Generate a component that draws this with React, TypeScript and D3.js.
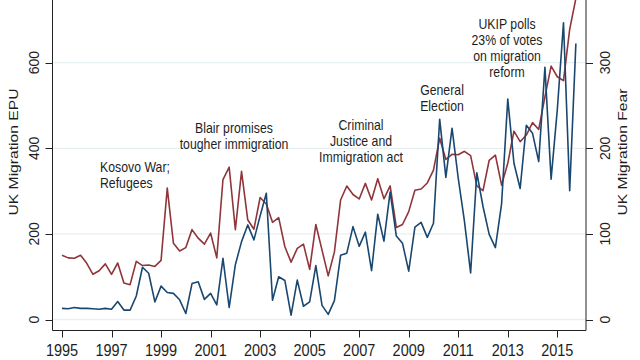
import { useEffect, useRef } from 'react'
import * as d3 from 'd3'

// quarterly values, 1995Q1 .. 2015Q4
const epu = [
  26, 25, 28, 26,
  26, 25, 24, 26,
  24, 42, 22, 22,
  55, 122, 108, 41,
  78, 63, 61, 46,
  14, 84, 88, 47,
  61, 34, 143, 28,
  128, 182, 221, 186,
  242, 295, 45, 100,
  91, 10, 92, 31,
  41, 126, 33, 12,
  44, 150, 155, 217,
  171, 204, 114, 246,
  183, 298, 195, 178,
  113, 216, 227, 192,
  225, 468, 332, 447,
  330, 230, 109, 343,
  264, 199, 168, 270,
  515, 365, 306, 454,
  435, 369, 589, 328,
  490, 693, 301, 645,
]

const fear = [
  75, 72, 71.5, 75,
  65.6, 52.8, 57, 65,
  52.8, 66, 42.6, 40.7,
  68, 63, 63.7, 62,
  69, 153.5, 89, 80,
  84, 105, 95, 88,
  101, 72, 163.5, 178,
  105, 173, 116.5, 105.5,
  142.5, 135, 113.5, 119,
  85, 67, 83, 88,
  58.6, 111, 81, 51,
  79, 139.6, 156, 146,
  140.8, 159, 139.6, 164.5,
  141, 156, 107.5, 111,
  126, 151, 152.5, 159.5,
  174.6, 211.7, 187, 193,
  192.5, 196.5, 191.5, 156,
  150.5, 186, 192, 157,
  182.5, 220, 207.7, 215.5,
  230, 222, 260, 296,
  283.6, 279, 339, 375,
]

const startYear = 1995
const yearTicks = [1995, 1997, 1999, 2001, 2003, 2005, 2007, 2009, 2011, 2013, 2015]
const epuTicks = [0, 200, 400, 600]
const fearTicks = [0, 100, 200, 300]

const notes = [
  { lines: ['Kosovo War;', 'Refugees'], x: 100, y: 171.5, anchor: 'start' },
  { lines: ['Blair promises', 'tougher immigration'], x: 234, y: 133, anchor: 'middle' },
  { lines: ['Criminal', 'Justice and', 'Immigration act'], x: 361, y: 129.5, anchor: 'middle' },
  { lines: ['General', 'Election'], x: 442, y: 95, anchor: 'middle' },
  { lines: ['UKIP polls', '23% of votes', 'on migration', 'reform'], x: 507, y: 29, anchor: 'middle' },
]

const font = '"Liberation Sans", Arial, sans-serif'
const navy = '#1a476f'
const maroon = '#90353b'

export default function App() {
  const svgRef = useRef<SVGSVGElement | null>(null)

  useEffect(() => {
    if (!svgRef.current) return
    const svg = d3.select(svgRef.current)
    svg.selectAll('*').remove()

    const left = 52.5
    const right = 586
    const bottom = 330.5

    const quarters = epu.map((_, i) => startYear + i / 4)

    const x = d3.scaleLinear().domain([1995, 2015]).range([62, 557.3])
    const yL = d3.scaleLinear().domain([0, 600]).range([319.5, 62.7])
    const yR = d3.scaleLinear().domain([0, 300]).range([319.5, 62.7])

    svg.append('rect').attr('width', 640).attr('height', 360).attr('fill', '#fff')

    svg.append('clipPath').attr('id', 'plot')
      .append('rect').attr('x', left).attr('y', -5).attr('width', right - left).attr('height', bottom + 5)

    // grid
    svg.append('g').selectAll('line').data(epuTicks).join('line')
      .attr('x1', left + 0.5).attr('x2', right - 0.5)
      .attr('y1', d => yL(d)).attr('y2', d => yL(d))
      .attr('stroke', '#e6eff2').attr('stroke-width', 1.3)

    const g = svg.append('g').attr('clip-path', 'url(#plot)')

    const lineL = d3.line<number>().x((_, i) => x(quarters[i])).y(d => yL(d))
    const lineR = d3.line<number>().x((_, i) => x(quarters[i])).y(d => yR(d))

    g.append('path').datum(fear).attr('d', lineR)
      .attr('fill', 'none').attr('stroke', maroon).attr('stroke-width', 1.6).attr('stroke-linejoin', 'round')
    g.append('path').datum(epu).attr('d', lineL)
      .attr('fill', 'none').attr('stroke', navy).attr('stroke-width', 1.6).attr('stroke-linejoin', 'round')

    // axis lines
    const ax = svg.append('g').attr('stroke', '#222').attr('stroke-width', 1)
    ax.append('line').attr('x1', left).attr('x2', left).attr('y1', 0).attr('y2', bottom)
    ax.append('line').attr('x1', right).attr('x2', right).attr('y1', 0).attr('y2', bottom)
    ax.append('line').attr('x1', left).attr('x2', right).attr('y1', bottom).attr('y2', bottom)

    ax.selectAll('.tx').data(yearTicks).join('line').attr('class', 'tx')
      .attr('x1', d => Math.round(x(d)) + 0.5).attr('x2', d => Math.round(x(d)) + 0.5)
      .attr('y1', bottom).attr('y2', bottom + 7)
    ax.selectAll('.tl').data(epuTicks).join('line').attr('class', 'tl')
      .attr('x1', left - 7).attr('x2', left)
      .attr('y1', d => Math.round(yL(d)) + 0.5).attr('y2', d => Math.round(yL(d)) + 0.5)
    ax.selectAll('.tr').data(fearTicks).join('line').attr('class', 'tr')
      .attr('x1', right).attr('x2', right + 7)
      .attr('y1', d => Math.round(yR(d)) + 0.5).attr('y2', d => Math.round(yR(d)) + 0.5)

    const txt = svg.append('g').attr('font-family', font).attr('fill', '#1e1e1e')

    txt.selectAll('.lx').data(yearTicks).join('text').attr('class', 'lx')
      .attr('transform', d => `translate(${x(d)},356) scale(1,1.15)`)
      .attr('text-anchor', 'middle').attr('font-size', 14.5)
      .text(d => String(d))

    txt.selectAll('.ll').data(epuTicks).join('text').attr('class', 'll')
      .attr('transform', d => `translate(38.5,${yL(d)}) rotate(-90)`)
      .attr('text-anchor', 'middle').attr('font-size', 14)
      .text(d => String(d))

    txt.selectAll('.lr').data(fearTicks).join('text').attr('class', 'lr')
      .attr('transform', d => `translate(610,${yR(d)}) rotate(-90)`)
      .attr('text-anchor', 'middle').attr('font-size', 14)
      .text(d => String(d))

    txt.append('text')
      .attr('transform', 'translate(18,152) scale(1,1.16) rotate(-90)')
      .attr('text-anchor', 'middle').attr('font-size', 13.5)
      .text('UK Migration EPU')
    txt.append('text')
      .attr('transform', 'translate(627,152) scale(1,1.16) rotate(-90)')
      .attr('text-anchor', 'middle').attr('font-size', 13.5)
      .text('UK Migration Fear')

    notes.forEach(n => {
      n.lines.forEach((s, i) => {
        txt.append('text')
          .attr('transform', `translate(${n.x},${n.y + i * 16}) scale(1,1.12)`)
          .attr('text-anchor', n.anchor).attr('font-size', 12.3)
          .text(s)
      })
    })
  }, [])

  return (
    <svg ref={svgRef} width={640} height={360}
      style={{ position: 'absolute', left: 0, top: 0, display: 'block' }} />
  )
}
